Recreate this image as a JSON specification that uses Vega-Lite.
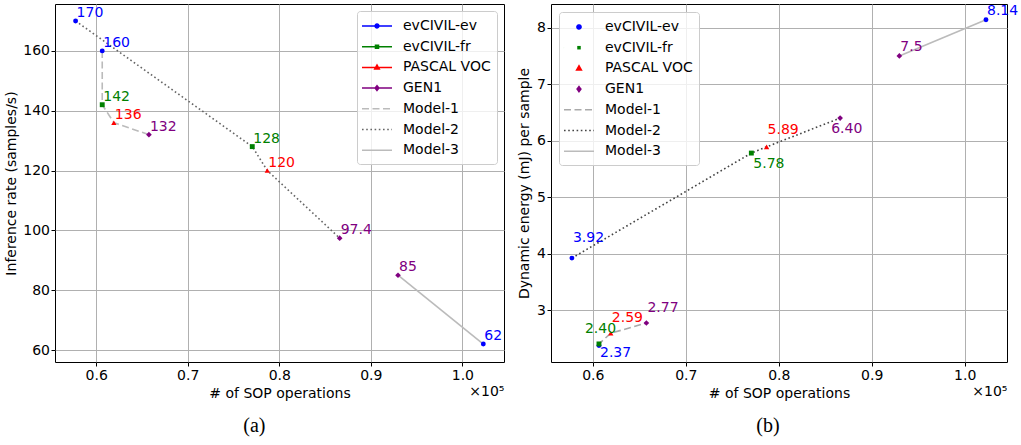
{
  "$schema": "https://vega.github.io/schema/vega-lite/v6.json",
  "padding": {"left": 4, "top": 3, "right": 0, "bottom": 0},
  "spacing": 12,
  "config": {
    "font": "DejaVu Sans",
    "view": {"stroke": "black", "strokeWidth": 1},
    "axis": {
      "labelFont": "DejaVu Sans", "labelFontSize": 14, "labelColor": "black",
      "titleFont": "DejaVu Sans", "titleFontSize": 14, "titleFontWeight": "normal", "titleColor": "black",
      "gridColor": "#b0b0b0", "gridWidth": 1, "gridOpacity": 1,
      "tickColor": "black", "tickSize": 4, "tickWidth": 1, "domain": false
    },
    "legend": {"labelFont": "DejaVu Sans", "labelFontSize": 14, "labelColor": "black"}
  },
  "datasets": {
    "pts": [
      {"dataset": "evCIVIL-ev", "model": "Model-1", "sop": 0.6066, "rate": 160, "energy": 2.37, "rateLabel": "160", "energyLabel": "2.37"},
      {"dataset": "evCIVIL-fr", "model": "Model-1", "sop": 0.6066, "rate": 142, "energy": 2.40, "rateLabel": "142", "energyLabel": "2.40"},
      {"dataset": "PASCAL VOC", "model": "Model-1", "sop": 0.6193, "rate": 136, "energy": 2.59, "rateLabel": "136", "energyLabel": "2.59"},
      {"dataset": "GEN1", "model": "Model-1", "sop": 0.6576, "rate": 132, "energy": 2.77, "rateLabel": "132", "energyLabel": "2.77"},
      {"dataset": "evCIVIL-ev", "model": "Model-2", "sop": 0.5775, "rate": 170, "energy": 3.92, "rateLabel": "170", "energyLabel": "3.92"},
      {"dataset": "evCIVIL-fr", "model": "Model-2", "sop": 0.7705, "rate": 128, "energy": 5.78, "rateLabel": "128", "energyLabel": "5.78"},
      {"dataset": "PASCAL VOC", "model": "Model-2", "sop": 0.7869, "rate": 120, "energy": 5.89, "rateLabel": "120", "energyLabel": "5.89"},
      {"dataset": "GEN1", "model": "Model-2", "sop": 0.866, "rate": 97.4, "energy": 6.40, "rateLabel": "97.4", "energyLabel": "6.40"},
      {"dataset": "GEN1", "model": "Model-3", "sop": 0.9297, "rate": 85, "energy": 7.5, "rateLabel": "85", "energyLabel": "7.5"},
      {"dataset": "evCIVIL-ev", "model": "Model-3", "sop": 1.0229, "rate": 62, "energy": 8.14, "rateLabel": "62", "energyLabel": "8.14"}
    ]
  },
  "resolve": {
    "scale": {"color": "independent", "fill": "independent", "stroke": "independent", "shape": "independent", "strokeDash": "independent"},
    "legend": {"color": "independent", "fill": "independent", "stroke": "independent", "shape": "independent", "strokeDash": "independent"}
  },
  "hconcat": [
    {
      "width": 449,
      "height": 358,
      "title": {"text": "(a)", "orient": "bottom", "anchor": "middle", "frame": "bounds", "font": "Liberation Serif", "fontSize": 20, "fontWeight": "normal", "color": "black", "offset": 16},
      "data": {"name": "pts"},
      "resolve": {"axis": {"x": "independent", "y": "independent"}},
      "encoding": {
        "x": {"field": "sop", "type": "quantitative", "scale": {"domain": [0.555, 1.0455], "nice": false, "zero": false}, "axis": null},
        "y": {"field": "rate", "type": "quantitative", "scale": {"domain": [56, 175.67], "nice": false, "zero": false}, "axis": null},
        "color": {"field": "dataset", "type": "nominal", "scale": {"domain": ["evCIVIL-ev", "evCIVIL-fr", "PASCAL VOC", "GEN1"], "range": ["blue", "green", "red", "purple"]}, "legend": null}
      },
      "layer": [
        {
          "transform": [{"filter": "datum.model == 'Model-1'"}],
          "mark": {"type": "line", "strokeDash": [7, 3.5], "strokeWidth": 1.6},
          "encoding": {
            "x": {"field": "sop", "type": "quantitative", "scale": {"domain": [0.555, 1.0455], "nice": false, "zero": false},
                  "axis": {"orient": "bottom", "values": [0.6, 0.7, 0.8, 0.9, 1.0], "format": ".1f", "title": "# of SOP operations", "grid": true, "labelPadding": 2, "titlePadding": 4}},
            "y": {"field": "rate", "type": "quantitative", "scale": {"domain": [56, 175.67], "nice": false, "zero": false},
                  "axis": {"orient": "left", "values": [60, 80, 100, 120, 140, 160], "title": "Inference rate (samples/s)", "grid": true, "labelPadding": 1.5, "titlePadding": 4}},
            "color": {"value": "#bbbbbb"},
            "order": {"value": null}
          }
        },
        {
          "transform": [{"filter": "datum.model == 'Model-2'"}],
          "mark": {"type": "line", "strokeDash": [1.6, 2.6], "strokeWidth": 1.6},
          "encoding": {"color": {"value": "#666666"}, "order": {"value": null}}
        },
        {
          "transform": [{"filter": "datum.model == 'Model-3'"}],
          "mark": {"type": "line", "strokeWidth": 1.6},
          "encoding": {"color": {"value": "#bbbbbb"}, "order": {"value": null}}
        },
        {
          "transform": [{"filter": "datum.dataset == 'evCIVIL-ev'"}],
          "mark": {"type": "point", "shape": "circle", "filled": true, "size": 24, "opacity": 1},
          "encoding": {
            "x": {"field": "sop", "type": "quantitative", "scale": {"domain": [0.555, 1.0455], "nice": false, "zero": false},
                  "axis": {"orient": "bottom", "title": "×10⁵", "titleAnchor": "end", "titleAlign": "right", "labels": false, "ticks": false, "grid": false, "domain": false, "titlePadding": 22}}
          }
        },
        {
          "transform": [{"filter": "datum.dataset == 'evCIVIL-fr'"}],
          "mark": {"type": "point", "shape": "square", "filled": true, "size": 24, "opacity": 1}
        },
        {
          "transform": [{"filter": "datum.dataset == 'PASCAL VOC'"}],
          "mark": {"type": "point", "shape": "triangle-up", "filled": true, "size": 28, "opacity": 1}
        },
        {
          "transform": [{"filter": "datum.dataset == 'GEN1'"}],
          "mark": {"type": "point", "shape": "diamond", "filled": true, "size": 32, "opacity": 1}
        },
        {
          "mark": {"type": "text", "align": "left", "baseline": "alphabetic", "dx": 1, "dy": -4, "fontSize": 14, "font": "DejaVu Sans"},
          "encoding": {"text": {"field": "rateLabel"}}
        },
        {
          "mark": {"type": "point", "opacity": 0},
          "encoding": {
            "fill": {"field": "dataset", "type": "nominal",
              "scale": {"domain": ["evCIVIL-ev", "evCIVIL-fr", "PASCAL VOC", "GEN1", "Model-1", "Model-2", "Model-3"], "range": ["blue", "green", "red", "purple", "transparent", "transparent", "transparent"]},
              "legend": {"title": null, "orient": "top-right", "offset": 7, "padding": 6, "rowPadding": 4.7, "labelOffset": 22, "labelFontSize": 14, "symbolSize": 256, "symbolStrokeWidth": 1.5, "symbolOpacity": 1, "fillColor": "rgba(255,255,255,0.8)", "strokeColor": "#cccccc", "cornerRadius": 3}},
            "stroke": {"field": "dataset", "type": "nominal",
              "scale": {"domain": ["evCIVIL-ev", "evCIVIL-fr", "PASCAL VOC", "GEN1", "Model-1", "Model-2", "Model-3"], "range": ["blue", "green", "red", "purple", "#bbbbbb", "#666666", "#bbbbbb"]},
              "legend": {"title": null, "orient": "top-right", "offset": 7, "padding": 6, "rowPadding": 4.7, "labelOffset": 22, "labelFontSize": 14, "symbolSize": 256, "symbolStrokeWidth": 1.5, "symbolOpacity": 1, "fillColor": "rgba(255,255,255,0.8)", "strokeColor": "#cccccc", "cornerRadius": 3}},
            "shape": {"field": "dataset", "type": "nominal",
              "scale": {"domain": ["evCIVIL-ev", "evCIVIL-fr", "PASCAL VOC", "GEN1", "Model-1", "Model-2", "Model-3"],
                        "range": [
                          "M-1.25,0H2.5M0.865,0A0.24,0.24,0,1,1,0.385,0A0.24,0.24,0,1,1,0.865,0Z",
                          "M-1.25,0H2.5M0.435,-0.19H0.815V0.19H0.435Z",
                          "M-1.25,0H2.5M0.625,-0.3L0.905,0.2H0.345Z",
                          "M-1.25,0H2.5M0.625,-0.3L0.865,0L0.625,0.3L0.385,0Z",
                          "M-1.25,0H2.5", "M-1.25,0H2.5", "M-1.25,0H2.5"]},
              "legend": {"title": null, "orient": "top-right", "offset": 7, "padding": 6, "rowPadding": 4.7, "labelOffset": 22, "labelFontSize": 14, "symbolSize": 256, "symbolStrokeWidth": 1.5, "symbolOpacity": 1, "fillColor": "rgba(255,255,255,0.8)", "strokeColor": "#cccccc", "cornerRadius": 3}},
            "strokeDash": {"field": "dataset", "type": "nominal",
              "scale": {"domain": ["evCIVIL-ev", "evCIVIL-fr", "PASCAL VOC", "GEN1", "Model-1", "Model-2", "Model-3"], "range": [[1, 0], [1, 0], [1, 0], [1, 0], [7, 3.5], [1.6, 2.6], [1, 0]]},
              "legend": {"title": null, "orient": "top-right", "offset": 7, "padding": 6, "rowPadding": 4.7, "labelOffset": 22, "labelFontSize": 14, "symbolSize": 256, "symbolStrokeWidth": 1.5, "symbolOpacity": 1, "fillColor": "rgba(255,255,255,0.8)", "strokeColor": "#cccccc", "cornerRadius": 3}}
          }
        }
      ]
    },
    {
      "width": 456,
      "height": 358,
      "title": {"text": "(b)", "orient": "bottom", "anchor": "middle", "frame": "bounds", "font": "Liberation Serif", "fontSize": 20, "fontWeight": "normal", "color": "black", "offset": 16},
      "data": {"name": "pts"},
      "resolve": {"axis": {"x": "independent", "y": "independent"}},
      "encoding": {
        "x": {"field": "sop", "type": "quantitative", "scale": {"domain": [0.555, 1.0455], "nice": false, "zero": false}, "axis": null},
        "y": {"field": "energy", "type": "quantitative", "scale": {"domain": [2.08, 8.42], "nice": false, "zero": false}, "axis": null},
        "color": {"field": "dataset", "type": "nominal", "scale": {"domain": ["evCIVIL-ev", "evCIVIL-fr", "PASCAL VOC", "GEN1"], "range": ["blue", "green", "red", "purple"]}, "legend": null}
      },
      "layer": [
        {
          "transform": [{"filter": "datum.model == 'Model-1'"}],
          "mark": {"type": "line", "strokeDash": [7, 3.5], "strokeWidth": 1.6},
          "encoding": {
            "x": {"field": "sop", "type": "quantitative", "scale": {"domain": [0.555, 1.0455], "nice": false, "zero": false},
                  "axis": {"orient": "bottom", "values": [0.6, 0.7, 0.8, 0.9, 1.0], "format": ".1f", "title": "# of SOP operations", "grid": true, "labelPadding": 2, "titlePadding": 4}},
            "y": {"field": "energy", "type": "quantitative", "scale": {"domain": [2.08, 8.42], "nice": false, "zero": false},
                  "axis": {"orient": "left", "values": [3, 4, 5, 6, 7, 8], "title": "Dynamic energy (mJ) per sample", "grid": true, "labelPadding": 1.5, "titlePadding": 5}},
            "color": {"value": "#aaaaaa"},
            "order": {"value": null}
          }
        },
        {
          "transform": [{"filter": "datum.model == 'Model-2'"}],
          "mark": {"type": "line", "strokeDash": [1.6, 2.6], "strokeWidth": 1.6},
          "encoding": {"color": {"value": "#444444"}, "order": {"value": null}}
        },
        {
          "transform": [{"filter": "datum.model == 'Model-3'"}],
          "mark": {"type": "line", "strokeWidth": 1.6},
          "encoding": {"color": {"value": "#bbbbbb"}, "order": {"value": null}}
        },
        {
          "transform": [{"filter": "datum.dataset == 'evCIVIL-ev'"}],
          "mark": {"type": "point", "shape": "circle", "filled": true, "size": 24, "opacity": 1},
          "encoding": {
            "x": {"field": "sop", "type": "quantitative", "scale": {"domain": [0.555, 1.0455], "nice": false, "zero": false},
                  "axis": {"orient": "bottom", "title": "×10⁵", "titleAnchor": "end", "titleAlign": "right", "labels": false, "ticks": false, "grid": false, "domain": false, "titlePadding": 22}}
          }
        },
        {
          "transform": [{"filter": "datum.dataset == 'evCIVIL-fr'"}],
          "mark": {"type": "point", "shape": "square", "filled": true, "size": 24, "opacity": 1}
        },
        {
          "transform": [{"filter": "datum.dataset == 'PASCAL VOC'"}],
          "mark": {"type": "point", "shape": "triangle-up", "filled": true, "size": 28, "opacity": 1}
        },
        {
          "transform": [{"filter": "datum.dataset == 'GEN1'"}],
          "mark": {"type": "point", "shape": "diamond", "filled": true, "size": 32, "opacity": 1}
        },
        {
          "transform": [{"filter": "datum.model == 'Model-3'"}],
          "mark": {"type": "text", "align": "left", "baseline": "alphabetic", "dx": 1, "dy": -5, "fontSize": 14, "font": "DejaVu Sans"},
          "encoding": {"text": {"field": "energyLabel"}}
        },
        {
          "transform": [{"filter": "datum.model == 'Model-1' && (datum.dataset == 'PASCAL VOC' || datum.dataset == 'GEN1')"}],
          "mark": {"type": "text", "align": "left", "baseline": "alphabetic", "dx": 1, "dy": -11, "fontSize": 14, "font": "DejaVu Sans"},
          "encoding": {"text": {"field": "energyLabel"}}
        },
        {
          "transform": [{"filter": "datum.model == 'Model-2' && datum.dataset == 'PASCAL VOC'"}],
          "mark": {"type": "text", "align": "left", "baseline": "alphabetic", "dx": 1, "dy": -13, "fontSize": 14, "font": "DejaVu Sans"},
          "encoding": {"text": {"field": "energyLabel"}}
        },
        {
          "transform": [{"filter": "datum.model == 'Model-2' && datum.dataset == 'evCIVIL-ev'"}],
          "mark": {"type": "text", "align": "left", "baseline": "alphabetic", "dx": 1, "dy": -16, "fontSize": 14, "font": "DejaVu Sans"},
          "encoding": {"text": {"field": "energyLabel"}}
        },
        {
          "transform": [{"filter": "datum.model == 'Model-1' && datum.dataset == 'evCIVIL-fr'"}],
          "mark": {"type": "text", "align": "center", "baseline": "alphabetic", "dx": 1.5, "dy": -11, "fontSize": 14, "font": "DejaVu Sans"},
          "encoding": {"text": {"field": "energyLabel"}}
        },
        {
          "transform": [{"filter": "datum.model == 'Model-1' && datum.dataset == 'evCIVIL-ev'"}],
          "mark": {"type": "text", "align": "left", "baseline": "alphabetic", "dx": 1, "dy": 11, "fontSize": 14, "font": "DejaVu Sans"},
          "encoding": {"text": {"field": "energyLabel"}}
        },
        {
          "transform": [{"filter": "datum.model == 'Model-2' && datum.dataset == 'evCIVIL-fr'"}],
          "mark": {"type": "text", "align": "left", "baseline": "alphabetic", "dx": 2, "dy": 14.5, "fontSize": 14, "font": "DejaVu Sans"},
          "encoding": {"text": {"field": "energyLabel"}}
        },
        {
          "transform": [{"filter": "datum.model == 'Model-2' && datum.dataset == 'GEN1'"}],
          "mark": {"type": "text", "align": "left", "baseline": "alphabetic", "dx": -9, "dy": 15, "fontSize": 14, "font": "DejaVu Sans"},
          "encoding": {"text": {"field": "energyLabel"}}
        },
        {
          "mark": {"type": "point", "opacity": 0},
          "encoding": {
            "fill": {"field": "dataset", "type": "nominal",
              "scale": {"domain": ["evCIVIL-ev", "evCIVIL-fr", "PASCAL VOC", "GEN1", "Model-1", "Model-2", "Model-3"], "range": ["blue", "green", "red", "purple", "transparent", "transparent", "transparent"]},
              "legend": {"title": null, "orient": "top-left", "offset": 8, "padding": 6, "rowPadding": 4.7, "labelOffset": 22, "labelFontSize": 14, "symbolSize": 256, "symbolStrokeWidth": 1.5, "symbolOpacity": 1, "fillColor": "rgba(255,255,255,0.8)", "strokeColor": "#cccccc", "cornerRadius": 3}},
            "stroke": {"field": "dataset", "type": "nominal",
              "scale": {"domain": ["evCIVIL-ev", "evCIVIL-fr", "PASCAL VOC", "GEN1", "Model-1", "Model-2", "Model-3"], "range": ["blue", "green", "red", "purple", "#aaaaaa", "#444444", "#bbbbbb"]},
              "legend": {"title": null, "orient": "top-left", "offset": 8, "padding": 6, "rowPadding": 4.7, "labelOffset": 22, "labelFontSize": 14, "symbolSize": 256, "symbolStrokeWidth": 1.5, "symbolOpacity": 1, "fillColor": "rgba(255,255,255,0.8)", "strokeColor": "#cccccc", "cornerRadius": 3}},
            "shape": {"field": "dataset", "type": "nominal",
              "scale": {"domain": ["evCIVIL-ev", "evCIVIL-fr", "PASCAL VOC", "GEN1", "Model-1", "Model-2", "Model-3"],
                        "range": [
                          "M-1.25,0L-1.25,0M2.5,0L2.5,0M0.885,0A0.26,0.26,0,1,1,0.365,0A0.26,0.26,0,1,1,0.885,0Z",
                          "M-1.25,0L-1.25,0M2.5,0L2.5,0M0.405,-0.22H0.845V0.22H0.405Z",
                          "M-1.25,0L-1.25,0M2.5,0L2.5,0M0.625,-0.32L0.925,0.2H0.325Z",
                          "M-1.25,0L-1.25,0M2.5,0L2.5,0M0.625,-0.32L0.865,0L0.625,0.32L0.385,0Z",
                          "M-1.25,0H2.5", "M-1.25,0H2.5", "M-1.25,0H2.5"]},
              "legend": {"title": null, "orient": "top-left", "offset": 8, "padding": 6, "rowPadding": 4.7, "labelOffset": 22, "labelFontSize": 14, "symbolSize": 256, "symbolStrokeWidth": 1.5, "symbolOpacity": 1, "fillColor": "rgba(255,255,255,0.8)", "strokeColor": "#cccccc", "cornerRadius": 3}},
            "strokeDash": {"field": "dataset", "type": "nominal",
              "scale": {"domain": ["evCIVIL-ev", "evCIVIL-fr", "PASCAL VOC", "GEN1", "Model-1", "Model-2", "Model-3"], "range": [[1, 0], [1, 0], [1, 0], [1, 0], [7, 3.5], [1.6, 2.6], [1, 0]]},
              "legend": {"title": null, "orient": "top-left", "offset": 8, "padding": 6, "rowPadding": 4.7, "labelOffset": 22, "labelFontSize": 14, "symbolSize": 256, "symbolStrokeWidth": 1.5, "symbolOpacity": 1, "fillColor": "rgba(255,255,255,0.8)", "strokeColor": "#cccccc", "cornerRadius": 3}}
          }
        }
      ]
    }
  ]
}
